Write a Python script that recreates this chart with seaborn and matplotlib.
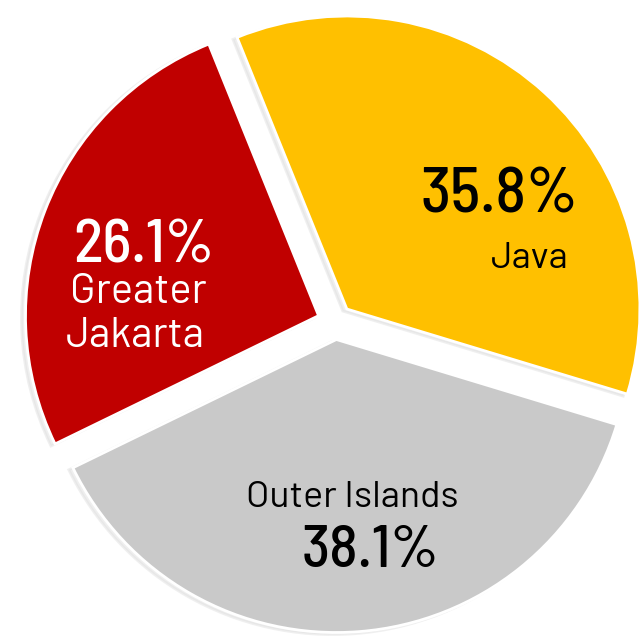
import matplotlib
matplotlib.use('Agg')
import matplotlib.pyplot as plt
import seaborn as sns

# Share of population by region
regions = ['Java', 'Outer Islands', 'Greater Jakarta']
shares = [35.8, 38.1, 26.1]
colors = ['#FFC000', '#C9C9C9', '#C00000']
pct_labels = ['35.8%', '38.1%', '26.1%']

sns.set_style('white')

fig = plt.figure(figsize=(6.43, 6.39), dpi=100)
ax = fig.add_axes([0, 0, 1, 1])

wedges, _ = ax.pie(
    shares,
    colors=colors,
    startangle=112,
    counterclock=False,
    explode=[0.06, 0.06, 0.06],
    radius=1.0,
    wedgeprops={'edgecolor': 'white', 'linewidth': 2},
    shadow={'ox': -0.01, 'oy': -0.005, 'color': '0.88', 'alpha': 0.5},
)

# keep pie centred where it sits in the reference (1 unit = 293 px)
ax.set_xlim(-1.143, 1.051)
ax.set_ylim(-1.082, 1.099)
ax.set_aspect('auto')
ax.axis('off')

W, H = 643, 639
pct_font = dict(family=['Barlow Semi Condensed', 'Roboto Condensed', 'DejaVu Sans'], weight='medium')
lab_font = dict(family=['Barlow', 'Roboto', 'DejaVu Sans'], weight='normal')


def put(x, y, s, size, color, font):
    # x, y given as pixel positions of the baseline centre
    fig.text(x / W, 1 - y / H, s, ha='center', va='baseline',
             fontsize=size, color=color, **font)


# Java
put(499, 213, pct_labels[0], 46, 'black', pct_font)
put(530, 268, regions[0], 27, 'black', lab_font)
# Outer Islands
put(352, 507, regions[1], 27, 'black', lab_font)
put(370, 567, pct_labels[1], 43, 'black', pct_font)
# Greater Jakarta
put(144, 263, pct_labels[2], 44, 'white', pct_font)
put(138, 303, 'Greater', 30, 'white', lab_font)
put(135, 347, 'Jakarta', 30, 'white', lab_font)

fig.savefig('out.png', dpi=100)
